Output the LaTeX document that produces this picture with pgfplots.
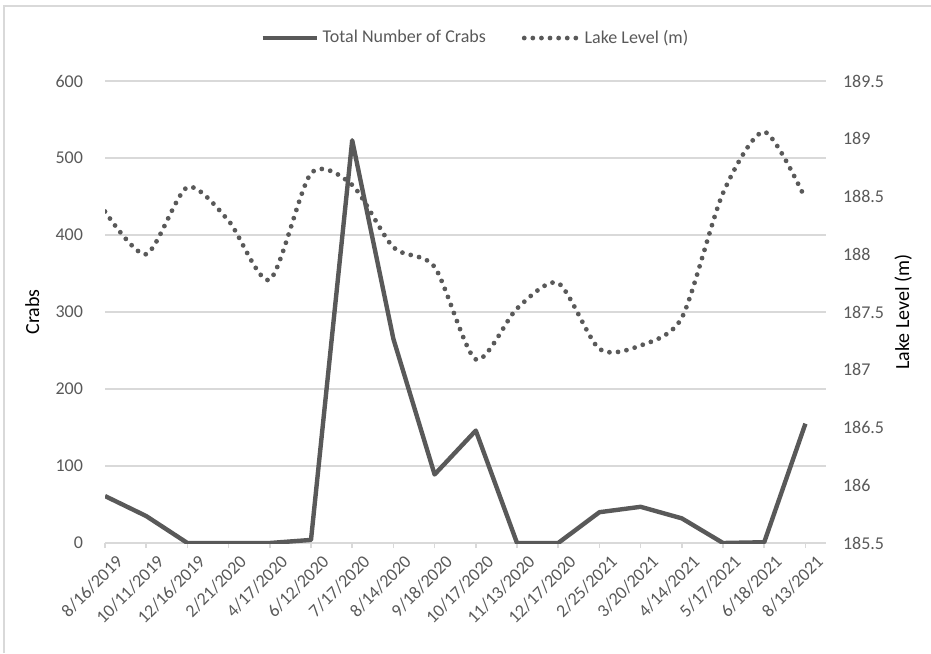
\documentclass[border=0pt]{standalone}
\usepackage{fontspec}
\setmainfont{Carlito}
\usepackage{pgfplots}
\pgfplotsset{compat=1.18}
\definecolor{txt}{HTML}{595959}
\definecolor{ln}{HTML}{595959}
\definecolor{grd}{HTML}{D9D9D9}
\begin{document}
\begin{tikzpicture}
\useasboundingbox (-52.5pt,-55pt) rectangle (413pt,271.5pt);
\draw[grd, line width=0.8pt] (-50.5pt,-55pt) -- (-50.5pt,268.5pt) -- (413pt,268.5pt);
\pgfplotsset{
  base/.style={
    at={(0,0)}, anchor=south west,
    scale only axis, width=360.5pt, height=231pt,
    xmin=0, xmax=17.5,
    /pgf/number format/assume math mode=true,
    tick label style={font=\fontsize{9}{11}\selectfont, text=txt},
    label style={font=\fontsize{10}{12}\selectfont, text=txt},
  }
}
\begin{axis}[base,
  ymin=0, ymax=600, ytick={0,100,...,600},
  axis x line*=bottom, axis y line*=left,
  x axis line style={grd, line width=0.8pt, -},
  y axis line style={draw=none},
  xtick={0,...,17},
  xticklabels={8/16/2019,10/11/2019,12/16/2019,2/21/2020,4/17/2020,6/12/2020,7/17/2020,8/14/2020,9/18/2020,10/17/2020,11/13/2020,12/17/2020,2/25/2021,3/20/2021,4/14/2021,5/17/2021,6/18/2021,8/13/2021},
  xticklabel style={rotate=45, anchor=east, inner sep=0pt, xshift=1.5pt, yshift=-9pt},
  x tick style={grd, line width=0.8pt},
  tick align=outside, major tick length=2.5pt,
  y tick style={draw=none},
  yticklabel style={xshift=-5pt},
  ymajorgrids, grid style={grd, line width=0.8pt},
  ylabel={Crabs},
  every axis y label/.style={at={(axis description cs:-0.101,0.5)}, rotate=90, anchor=center},
  legend columns=2,
  legend style={at={(axis description cs:0.515,1.093)}, anchor=center, draw=none, fill=none,
    font=\fontsize{9}{11}\selectfont, text=txt,
    /tikz/every even column/.append style={column sep=16pt}},
  legend image code/.code={\draw[#1] (0pt,0pt) -- (27pt,0pt);},
]
\addplot[ln, line width=2.2pt, line join=round] coordinates {
(0,61) (1,35) (2,0) (3,0) (4,0) (5,4) (6,523) (7,265) (8,89) (9,146)
(10,0) (11,0) (12,40) (13,47) (14,32) (15,0) (16,1) (17,155)
};
\addlegendentry{Total Number of Crabs}
\addlegendimage{ln, line width=2.4pt, line cap=round, dash pattern=on 0pt off 4.3pt}
\addlegendentry{Lake Level (m)}
\end{axis}
\begin{axis}[base,
  ymin=185.5, ymax=189.5, ytick={185.5,186,...,189.5},
  axis y line*=right, axis x line=none,
  y axis line style={draw=none},
  y tick style={draw=none},
  yticklabel style={xshift=5pt, anchor=west},
  yticklabel={\pgfmathprintnumber[fixed,precision=1]{\tick}},
  ylabel={Lake Level (m)},
  every axis y label/.style={at={(axis description cs:1.107,0.5)}, rotate=90, anchor=center},
]
\addplot[ln, line width=2.4pt, line cap=round, dash pattern=on 0pt off 4.3pt, smooth, tension=0.45] coordinates {
(0,188.37) (1,188.0) (2,188.58) (3,188.29) (4,187.78) (5,188.70) (6,188.6) (7,188.06) (8,187.89)
(9,187.09) (10,187.53) (11,187.75) (12,187.18) (13,187.21) (14,187.45) (15,188.53) (16,189.06) (17,188.48)
};
\end{axis}
\end{tikzpicture}
\end{document}
